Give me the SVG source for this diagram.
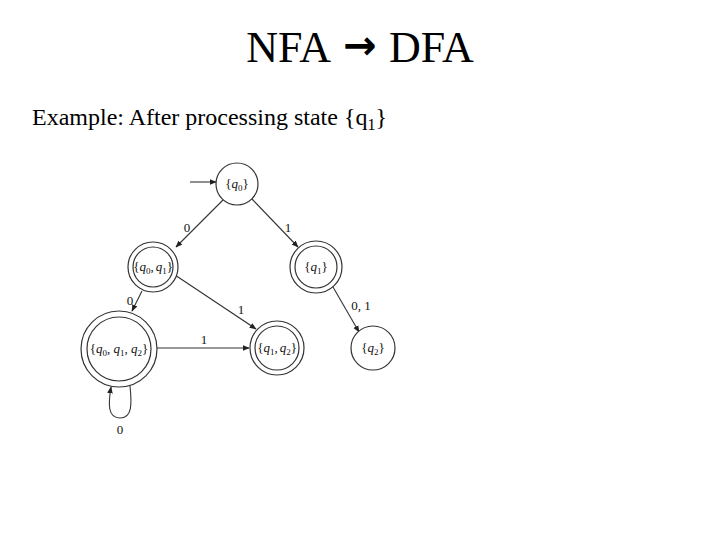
<svg xmlns="http://www.w3.org/2000/svg" width="720" height="540" viewBox="0 0 720 540">
<defs>
<marker id="ah" viewBox="0 0 10 10" refX="9" refY="5" markerWidth="7" markerHeight="7" orient="auto" markerUnits="userSpaceOnUse"><path d="M0,1 L10,5 L0,9 Z" fill="#222"/></marker>
</defs>
<style>
.st{fill:#fff;stroke:#333;stroke-width:1.2}
.lb{font-family:"Liberation Serif",serif;font-size:13px;fill:#111;text-anchor:middle}
.q{font-style:italic}
.s{font-size:9px}
.e{fill:none;stroke:#333;stroke-width:1.1;marker-end:url(#ah)}
.el{font-family:"Liberation Serif",serif;font-size:13px;fill:#111;text-anchor:middle}
.t{font-family:"Liberation Serif",serif;font-size:44px;fill:#000}
</style>
<rect width="720" height="540" fill="#fff"/>
<text class="t" x="331" y="62" text-anchor="end">NFA</text>
<text x="360" y="59" font-family="DejaVu Sans,sans-serif" font-size="40" font-weight="bold" text-anchor="middle" fill="#000">→</text>
<text class="t" x="389" y="62">DFA</text>
<text x="32" y="125" font-family="Liberation Serif,serif" font-size="24" fill="#000">Example: After processing state {q<tspan font-size="16" dy="5">1</tspan><tspan dy="-5">}</tspan></text>
<g id="connectors">
<line class="e" x1="190" y1="182" x2="216" y2="182"/>
<line class="e" x1="223" y1="200" x2="176" y2="247"/>
<text class="el" x="187" y="232">0</text>
<line class="e" x1="252" y1="199" x2="298" y2="247"/>
<text class="el" x="288" y="232">1</text>
<line class="e" x1="142" y1="291" x2="132" y2="311"/>
<text class="el" x="130" y="305">0</text>
<line class="e" x1="175" y1="275" x2="256" y2="329"/>
<text class="el" x="241" y="314">1</text>
<line class="e" x1="157" y1="348" x2="249" y2="348"/>
<text class="el" x="204" y="344">1</text>
<line class="e" x1="333" y1="287" x2="359" y2="332"/>
<text class="el" x="361" y="310">0, 1</text>
<path class="e" d="M130,386 C132,405 132,418 120,418 C108,418 108,405 111,387"/>
<text class="el" x="120" y="434">0</text>
</g>
<g id="q0">
<circle class="st" cx="237" cy="184" r="21"/>
<text class="lb" x="237" y="188" font-size="14">{<tspan class="q">q</tspan><tspan class="s" dy="3">0</tspan><tspan dy="-3">}</tspan></text>
</g>
<g id="q0q1">
<circle class="st" cx="153" cy="267" r="25"/>
<circle class="st" cx="153" cy="267" r="20"/>
<text class="lb" x="153" y="271">{<tspan class="q">q</tspan><tspan class="s" dy="3">0</tspan><tspan dy="-3">,</tspan><tspan class="q" dx="2">q</tspan><tspan class="s" dy="3">1</tspan><tspan dy="-3">}</tspan></text>
</g>
<g id="q1">
<circle class="st" cx="316" cy="267" r="26"/>
<circle class="st" cx="316" cy="267" r="21"/>
<text class="lb" x="316" y="271" font-size="14">{<tspan class="q">q</tspan><tspan class="s" dy="3">1</tspan><tspan dy="-3">}</tspan></text>
</g>
<g id="q0q1q2">
<circle class="st" cx="119" cy="349" r="38"/>
<circle class="st" cx="119" cy="349" r="32"/>
<text class="lb" x="119" y="353" font-size="14">{<tspan class="q">q</tspan><tspan class="s" dy="3">0</tspan><tspan dy="-3">, </tspan><tspan class="q">q</tspan><tspan class="s" dy="3">1</tspan><tspan dy="-3">, </tspan><tspan class="q">q</tspan><tspan class="s" dy="3">2</tspan><tspan dy="-3">}</tspan></text>
</g>
<g id="q1q2">
<circle class="st" cx="277" cy="348" r="27"/>
<circle class="st" cx="277" cy="348" r="22"/>
<text class="lb" x="277" y="352">{<tspan class="q">q</tspan><tspan class="s" dy="3">1</tspan><tspan dy="-3">,</tspan><tspan class="q" dx="2">q</tspan><tspan class="s" dy="3">2</tspan><tspan dy="-3">}</tspan></text>
</g>
<g id="q2">
<circle class="st" cx="373" cy="348" r="22"/>
<text class="lb" x="373" y="352" font-size="14">{<tspan class="q">q</tspan><tspan class="s" dy="3">2</tspan><tspan dy="-3">}</tspan></text>
</g>
</svg>
